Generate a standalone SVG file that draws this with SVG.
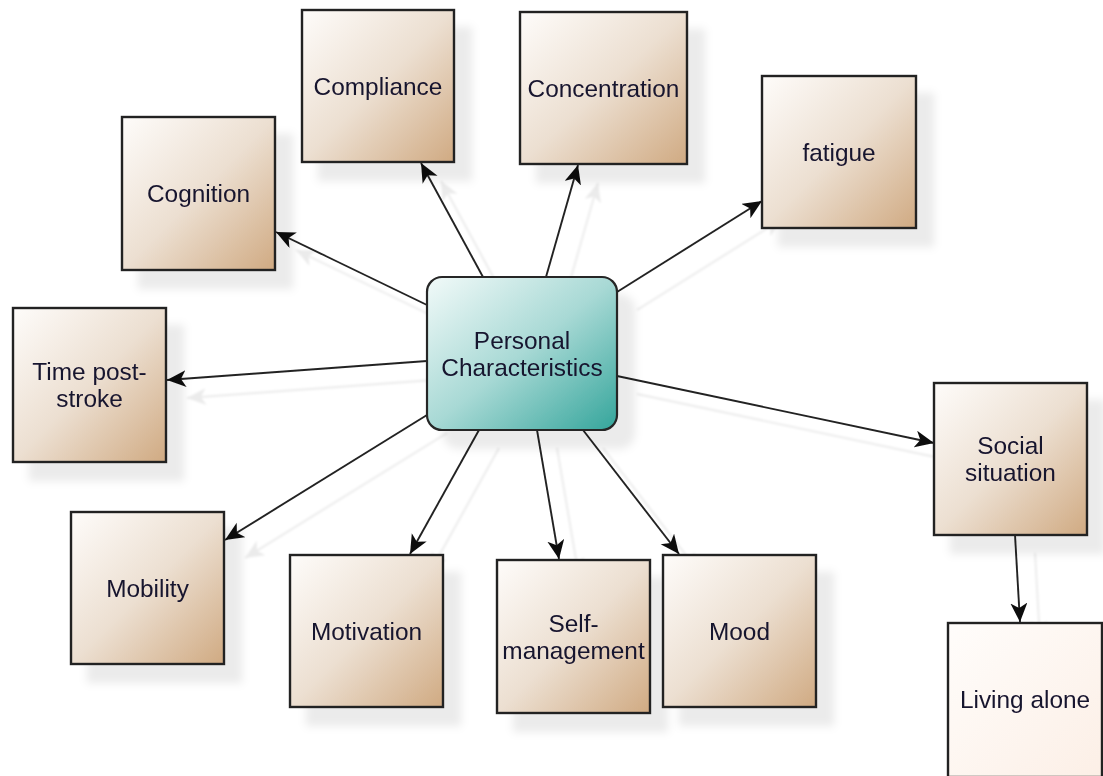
<svg xmlns="http://www.w3.org/2000/svg" width="1103" height="776" viewBox="0 0 1103 776">
<style>
.box{stroke:#222;stroke-width:2.4;fill:url(#tan)}
.t{font-family:"Liberation Sans",Arial,sans-serif;font-size:24.4px;fill:#17132e;text-anchor:middle}
.c{stroke:#222;stroke-width:1.9;fill:none;marker-end:url(#ah)}
</style>
<defs>
<linearGradient id="tan" x1="0" y1="0" x2="1" y2="1">
<stop offset="0" stop-color="#fefcfa"/>
<stop offset="0.5" stop-color="#ecdfd1"/>
<stop offset="1" stop-color="#d0aa82"/>
</linearGradient>
<linearGradient id="light" x1="0" y1="0" x2="1" y2="1">
<stop offset="0" stop-color="#fffdfb"/>
<stop offset="1" stop-color="#fcefe6"/>
</linearGradient>
<linearGradient id="teal" x1="0" y1="0" x2="1" y2="1">
<stop offset="0" stop-color="#f2faf9"/>
<stop offset="0.5" stop-color="#a8d9d5"/>
<stop offset="1" stop-color="#34a59b"/>
</linearGradient>
<filter id="sh" x="-20%" y="-20%" width="150%" height="150%">
<feDropShadow dx="17" dy="18" stdDeviation="4" flood-color="#000" flood-opacity="0.08"/>
</filter>
<filter id="lsh" x="-20%" y="-20%" width="150%" height="150%">
<feDropShadow dx="20" dy="18" stdDeviation="1.2" flood-color="#000" flood-opacity="0.08"/>
</filter>
<marker id="ah" markerUnits="userSpaceOnUse" markerWidth="20" markerHeight="18" refX="19" refY="8.5" orient="auto">
<path d="M0,0 L19,8.5 L0,17 L5,8.5 z" fill="#111"/>
</marker>
</defs>
<rect width="1103" height="776" fill="#fff"/>
<g id="connectors" filter="url(#lsh)">
<line class="c" x1="427" y1="305" x2="276" y2="232"/>
<line class="c" x1="483" y1="277" x2="421" y2="163"/>
<line class="c" x1="546" y1="277" x2="578" y2="165"/>
<line class="c" x1="617" y1="292" x2="762" y2="201"/>
<line class="c" x1="427" y1="361" x2="167" y2="380"/>
<line class="c" x1="617" y1="376" x2="934" y2="443"/>
<line class="c" x1="427" y1="415" x2="225" y2="540"/>
<line class="c" x1="479" y1="430" x2="410" y2="554"/>
<line class="c" x1="537" y1="430" x2="559" y2="559"/>
<line class="c" x1="583" y1="430" x2="679" y2="554"/>
<line class="c" x1="1015" y1="535" x2="1020" y2="622"/>
</g>
<g id="center" filter="url(#sh)">
<rect x="427" y="277" width="190" height="153" rx="15" fill="url(#teal)" stroke="#262626" stroke-width="2.2"/>
<text class="t" x="522" y="348.5">Personal</text>
<text class="t" x="522" y="375.5">Characteristics</text>
</g>
<g id="compliance" filter="url(#sh)">
<rect class="box" x="302" y="10" width="152" height="152"/>
<text class="t" x="378" y="94.5">Compliance</text>
</g>
<g id="concentration" filter="url(#sh)">
<rect class="box" x="520" y="12" width="167" height="152"/>
<text class="t" x="603.5" y="96.5">Concentration</text>
</g>
<g id="fatigue" filter="url(#sh)">
<rect class="box" x="762" y="76" width="154" height="152"/>
<text class="t" x="839" y="160.5">fatigue</text>
</g>
<g id="cognition" filter="url(#sh)">
<rect class="box" x="122" y="117" width="153" height="153"/>
<text class="t" x="198.5" y="202">Cognition</text>
</g>
<g id="timepoststroke" filter="url(#sh)">
<rect class="box" x="13" y="308" width="153" height="154"/>
<text class="t" x="89.5" y="380">Time post-</text>
<text class="t" x="89.5" y="407">stroke</text>
</g>
<g id="social" filter="url(#sh)">
<rect class="box" x="934" y="383" width="153" height="152"/>
<text class="t" x="1010.5" y="454">Social</text>
<text class="t" x="1010.5" y="481">situation</text>
</g>
<g id="mobility" filter="url(#sh)">
<rect class="box" x="71" y="512" width="153" height="152"/>
<text class="t" x="147.5" y="596.5">Mobility</text>
</g>
<g id="motivation" filter="url(#sh)">
<rect class="box" x="290" y="555" width="153" height="152"/>
<text class="t" x="366.5" y="639.5">Motivation</text>
</g>
<g id="selfmanagement" filter="url(#sh)">
<rect class="box" x="497" y="560" width="153" height="153"/>
<text class="t" x="573.5" y="631.5">Self-</text>
<text class="t" x="573.5" y="658.5">management</text>
</g>
<g id="mood" filter="url(#sh)">
<rect class="box" x="663" y="555" width="153" height="152"/>
<text class="t" x="739.5" y="639.5">Mood</text>
</g>
<g id="livingalone" filter="url(#sh)">
<rect x="948" y="623" width="154" height="154" fill="url(#light)" stroke="#222" stroke-width="2.4"/>
<text class="t" x="1025" y="708">Living alone</text>
</g>
</svg>
